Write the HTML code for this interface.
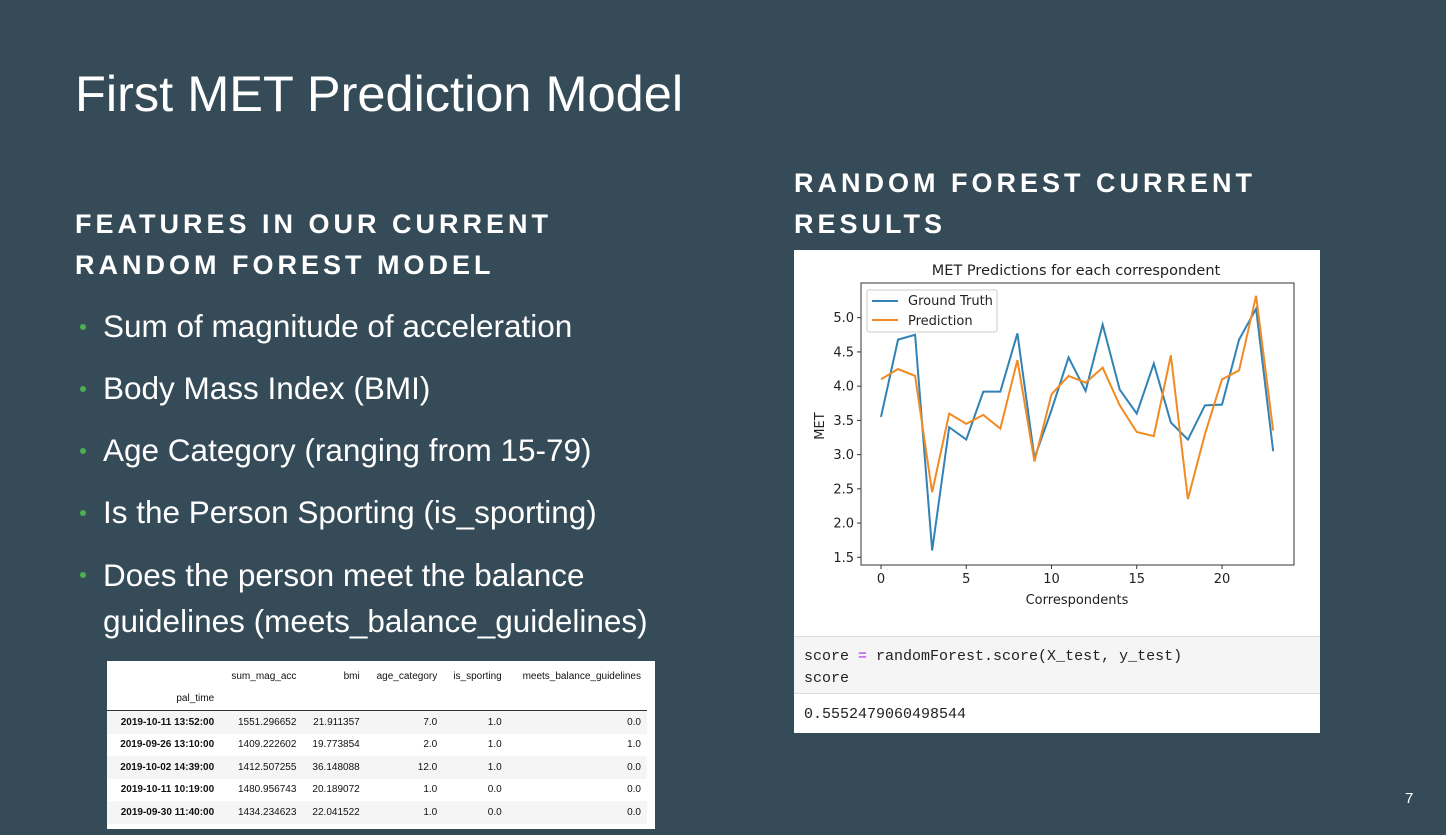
<!DOCTYPE html>
<html><head><meta charset="utf-8"><style>
body{margin:0;width:1446px;height:835px;background:#354b58;position:relative;overflow:hidden;font-family:"Liberation Sans",sans-serif;color:#fff}
.abs{position:absolute}
h1{position:absolute;left:75px;top:64px;margin:0;font-weight:normal;font-size:50.5px}
.h2{font-weight:bold;font-size:27px;letter-spacing:4px;line-height:41px}
ul{position:absolute;left:78px;top:304px;width:600px;margin:0;padding:0;list-style:none;font-size:31.5px}
li{position:relative;padding-left:25px;margin-bottom:17px;line-height:45px}
li:before{content:"";position:absolute;left:2px;top:20px;width:6px;height:6px;border-radius:50%;background:#4caf50}
table{border-collapse:collapse;font-size:10px;color:#111}
td{padding:0 6px;text-align:right;height:22.5px}
</style></head><body>
<h1>First MET Prediction Model</h1>
<div class="abs h2" style="left:75px;top:204px">FEATURES IN OUR CURRENT<br>RANDOM FOREST MODEL</div>
<div class="abs h2" style="left:794px;top:163px">RANDOM FOREST CURRENT<br>RESULTS</div>
<ul>
<li>Sum of magnitude of acceleration</li>
<li>Body Mass Index (BMI)</li>
<li>Age Category (ranging from 15-79)</li>
<li>Is the Person Sporting (is_sporting)</li>
<li style="line-height:46px">Does the person meet the balance guidelines (meets_balance_guidelines)</li>
</ul>
<div class="abs" style="left:107px;top:661px;width:548px;height:168px;background:#fff">
<table style="margin-top:4px;width:540px">
<tr style="height:22px"><td></td><td>sum_mag_acc</td><td>bmi</td><td>age_category</td><td>is_sporting</td><td>meets_balance_guidelines</td></tr>
<tr style="border-bottom:1px solid #333"><td style="text-align:right">pal_time</td><td></td><td></td><td></td><td></td><td></td></tr>
<tr style="background:#f5f5f5"><td><b>2019-10-11 13:52:00</b></td><td>1551.296652</td><td>21.911357</td><td>7.0</td><td>1.0</td><td>0.0</td></tr>
<tr><td><b>2019-09-26 13:10:00</b></td><td>1409.222602</td><td>19.773854</td><td>2.0</td><td>1.0</td><td>1.0</td></tr>
<tr style="background:#f5f5f5"><td><b>2019-10-02 14:39:00</b></td><td>1412.507255</td><td>36.148088</td><td>12.0</td><td>1.0</td><td>0.0</td></tr>
<tr><td><b>2019-10-11 10:19:00</b></td><td>1480.956743</td><td>20.189072</td><td>1.0</td><td>0.0</td><td>0.0</td></tr>
<tr style="background:#f5f5f5"><td><b>2019-09-30 11:40:00</b></td><td>1434.234623</td><td>22.041522</td><td>1.0</td><td>0.0</td><td>0.0</td></tr>
</table></div>
<div class="abs" style="left:794px;top:250px;width:526px;height:483px;background:#fff">
<svg id="chart" width="526" height="385" style="position:absolute;left:0;top:0"></svg>
<div class="abs" style="left:0;top:386px;width:526px;height:58px;background:#f5f5f5;border-top:1px solid #ddd;border-bottom:1px solid #ddd;font-family:'Liberation Mono',monospace;font-size:15px;color:#222;line-height:22px;padding:9px 0 0 10px;box-sizing:border-box">score <span style="color:#a2f">=</span> randomForest.score(X_test, y_test)<br>score</div>
<div class="abs" style="left:10px;top:456px;font-family:'Liberation Mono',monospace;font-size:15px;color:#222">0.5552479060498544</div>
</div>
<div class="abs" style="left:1405px;top:790px;font-size:15px">7</div>
<script>
const xs=[0,1,2,3,4,5,6,7,8,9,10,11,12,13,14,15,16,17,18,19,20,21,22,23];
const truth=[3.55,4.68,4.75,1.6,3.4,3.22,3.92,3.92,4.77,2.95,3.65,4.42,3.93,4.9,3.95,3.6,4.33,3.47,3.22,3.72,3.73,4.68,5.13,3.05];
const pred=[4.1,4.25,4.15,2.45,3.6,3.45,3.58,3.38,4.38,2.9,3.88,4.15,4.05,4.27,3.72,3.33,3.27,4.45,2.35,3.3,4.1,4.23,5.32,3.35];
const xTicks=[0,5,10,15,20];
const yTicks=[1.5,2.0,2.5,3.0,3.5,4.0,4.5,5.0];
const svg=document.getElementById('chart');const NS='http://www.w3.org/2000/svg';
const L=67,R=500,T=33,B=315;
const sx=v=>87+v*(428-87)/20;
const sy=v=>307.3-(v-1.5)*(307.3-67.7)/3.5;
function add(tag,attrs,txt){const e=document.createElementNS(NS,tag);for(const k in attrs)e.setAttribute(k,attrs[k]);if(txt!==undefined)e.textContent=txt;svg.appendChild(e);return e;}
let e=add('rect',{x:L,y:T,width:R-L,height:B-T,fill:'none',stroke:'#333','stroke-width':1});

xTicks.forEach(v=>{add('line',{x1:sx(v),x2:sx(v),y1:B,y2:B+4,stroke:'#333'});
 e=add('text',{x:sx(v),y:B+18,'text-anchor':'middle','font-size':13,fill:'#222','font-family':'DejaVu Sans'},String(v));
 });
yTicks.forEach(v=>{add('line',{x1:L-4,x2:L,y1:sy(v),y2:sy(v),stroke:'#333'});
 e=add('text',{x:L-7,y:sy(v)+4.5,'text-anchor':'end','font-size':13,fill:'#222','font-family':'DejaVu Sans'},v.toFixed(1));
 });
function line(data,color,name){e=add('polyline',{points:data.map((v,i)=>sx(xs[i])+','+sy(v)).join(' '),fill:'none',stroke:color,'stroke-width':2});
 }
line(truth,'#3182b6','ground-truth-line');
line(pred,'#f28a22','prediction-line');
e=add('text',{x:282,y:25,'text-anchor':'middle','font-size':14.5,fill:'#222','font-family':'DejaVu Sans'},'MET Predictions for each correspondent');

e=add('text',{x:283,y:354,'text-anchor':'middle','font-size':13,fill:'#222','font-family':'DejaVu Sans'},'Correspondents');

e=add('text',{x:0,y:0,'text-anchor':'middle','font-size':13,fill:'#222','font-family':'DejaVu Sans',transform:'translate(30,176) rotate(-90)'},'MET');

e=add('rect',{x:73,y:40,width:130,height:42,fill:'#fff',stroke:'#ccc',rx:2});

add('line',{x1:78,x2:104,y1:51,y2:51,stroke:'#3182b6','stroke-width':2});
e=add('text',{x:114,y:55,'font-size':13,fill:'#222','font-family':'DejaVu Sans'},'Ground Truth');

add('line',{x1:78,x2:104,y1:70,y2:70,stroke:'#f28a22','stroke-width':2});
e=add('text',{x:114,y:75,'font-size':13,fill:'#222','font-family':'DejaVu Sans'},'Prediction');

</script>
</body></html>
